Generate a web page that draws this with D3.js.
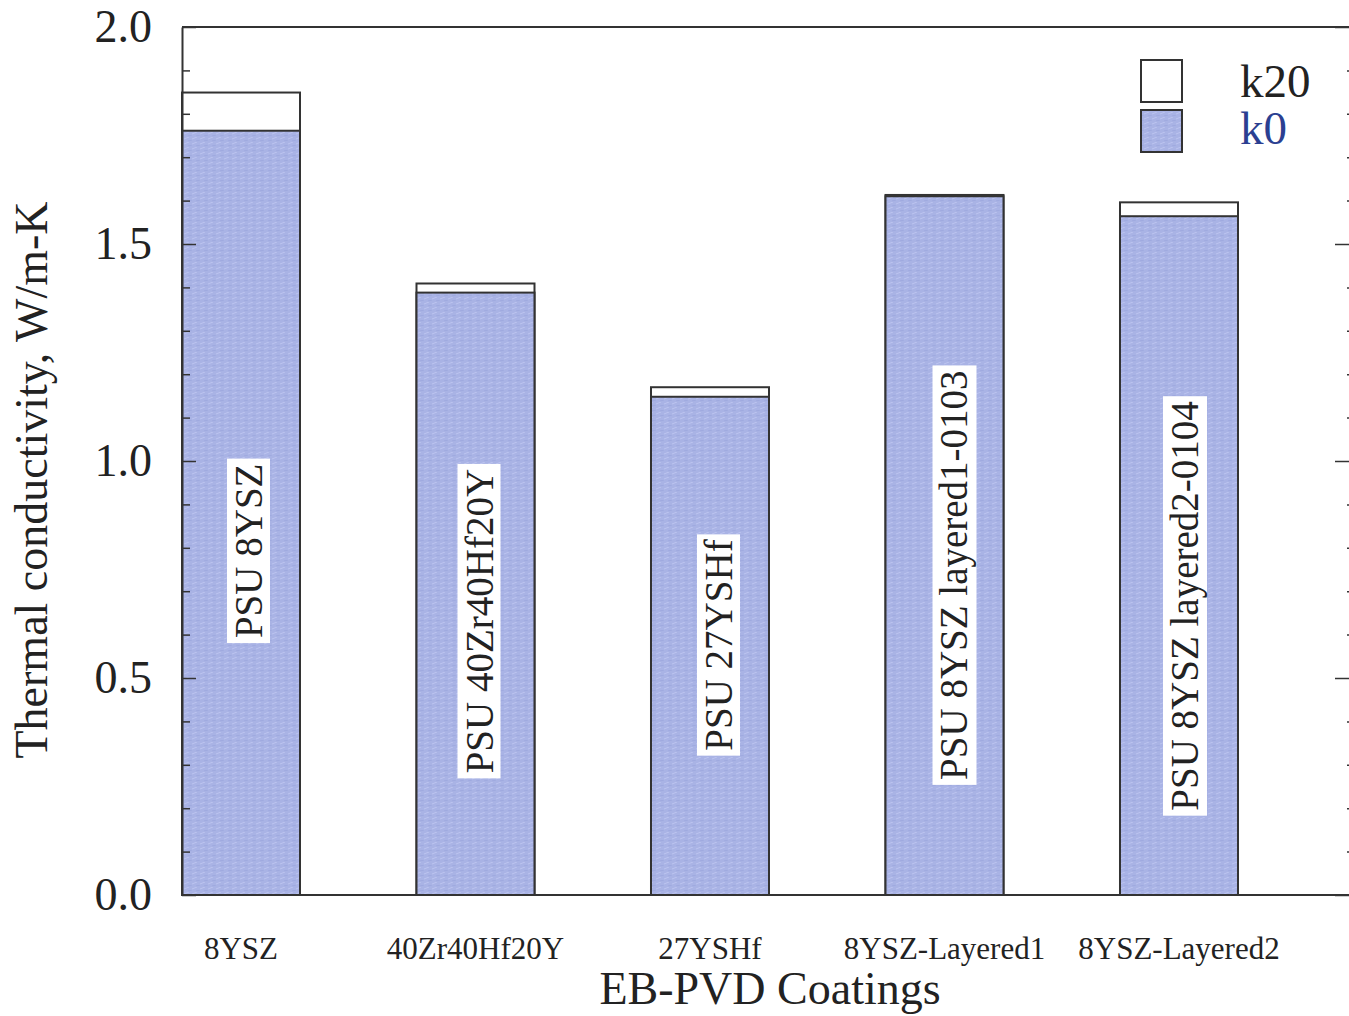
<!DOCTYPE html>
<html>
<head>
<meta charset="utf-8">
<script src="https://cdn.jsdelivr.net/npm/d3@7"></script>
<style>
  body { margin: 0; background: #fff; }
  svg { display: block; }
  text { font-family: "Liberation Serif", "Times New Roman", serif; fill: #222; }
</style>
</head>
<body>
<svg id="chart" width="1349" height="1016"></svg>
<script>
// Thermal conductivity of EB-PVD coatings (W/m-K)
const coatings = ["8YSZ", "40Zr40Hf20Y", "27YSHf", "8YSZ-Layered1", "8YSZ-Layered2"];
const barLabels = ["PSU 8YSZ", "PSU 40Zr40Hf20Y", "PSU 27YSHf", "PSU 8YSZ layered1-0103", "PSU 8YSZ layered2-0104"];
const k20 = [1.849, 1.409, 1.170, 1.613, 1.596];
const k0 = [1.761, 1.388, 1.148, 1.610, 1.564];
const yTicks = [0, 0.5, 1.0, 1.5, 2.0];
const yTickLabels = ["0.0", "0.5", "1.0", "1.5", "2.0"];
const yMinorTicks = [0.1, 0.2, 0.3, 0.4, 0.6, 0.7, 0.8, 0.9, 1.1, 1.2, 1.3, 1.4, 1.6, 1.7, 1.8, 1.9];

// where the in-bar captions sit: vertical centre (data units) and shift from bar centre (px)
const labelMid = [0.793, 0.631, 0.576, 0.737, 0.666];
const labelShift = [21, 17, 22, 23, 19];

const svg = d3.select("#chart");
const plotLeft = 182, plotRight = 1352, plotTop = 27, plotBottom = 895;

const y = d3.scaleLinear().domain([0, 2]).range([plotBottom, plotTop]);
const x = d3.scaleBand().domain(coatings).range([182, 1238]).paddingInner(0.4968).paddingOuter(0);

// fill texture for the k0 bars
const defs = svg.append("defs");
const pat = defs.append("pattern").attr("id", "k0fill")
  .attr("patternUnits", "userSpaceOnUse").attr("width", 8).attr("height", 5);
pat.append("rect").attr("width", 8).attr("height", 5).attr("fill", "#a9b3e5");
pat.append("path").attr("d", "M0,4 L5,2").attr("stroke", "#bcc4ef").attr("stroke-width", 1);
pat.append("path").attr("d", "M4,1 L8,0").attr("stroke", "#9ba6dd").attr("stroke-width", 0.8);

// bars: k20 behind, k0 in front
const bars = svg.append("g");
bars.selectAll("rect.k20").data(coatings).join("rect")
  .attr("class", "k20")
  .attr("x", d => x(d)).attr("width", x.bandwidth())
  .attr("y", (d, i) => y(k20[i])).attr("height", (d, i) => y(0) - y(k20[i]))
  .attr("fill", "#fff").attr("stroke", "#333").attr("stroke-width", 2);
bars.selectAll("rect.k0").data(coatings).join("rect")
  .attr("class", "k0")
  .attr("x", d => x(d)).attr("width", x.bandwidth())
  .attr("y", (d, i) => y(k0[i])).attr("height", (d, i) => y(0) - y(k0[i]))
  .attr("fill", "url(#k0fill)").attr("stroke", "#333").attr("stroke-width", 2);

// captions inside bars on white boxes
const cap = svg.append("g").selectAll("g").data(coatings).join("g")
  .attr("transform", (d, i) => `translate(${x(d) + x.bandwidth() / 2 + labelShift[i]},${y(labelMid[i])}) rotate(-90)`);
cap.append("text")
  .attr("text-anchor", "middle")
  .style("font-size", "39px")
  .text((d, i) => barLabels[i]);
cap.each(function () {
  const g = d3.select(this);
  const b = g.select("text").node().getBBox();
  g.insert("rect", "text")
    .attr("x", b.x - 5).attr("y", b.y).attr("width", b.width + 10).attr("height", b.height)
    .attr("fill", "#fff");
});

// frame lines
svg.append("line").attr("x1", plotLeft).attr("x2", plotRight).attr("y1", plotTop).attr("y2", plotTop)
  .attr("stroke", "#333").attr("stroke-width", 2);
svg.append("line").attr("x1", plotLeft).attr("x2", plotRight).attr("y1", plotBottom).attr("y2", plotBottom)
  .attr("stroke", "#333").attr("stroke-width", 2);

// left axis
const yAxis = svg.append("g").attr("transform", `translate(${plotLeft},0)`)
  .call(d3.axisLeft(y).tickValues(yTicks).tickFormat((d, i) => yTickLabels[i])
    .tickSizeInner(-14).tickSizeOuter(0).tickPadding(30));
yAxis.select(".domain").attr("stroke", "#333").attr("stroke-width", 2);
yAxis.selectAll(".tick line").attr("stroke", "#333").attr("stroke-width", 1.5);
yAxis.selectAll("text").style("font-size", "46px").attr("fill", "#222");

const yMinor = svg.append("g").attr("transform", `translate(${plotLeft},0)`)
  .call(d3.axisLeft(y).tickValues(yMinorTicks).tickFormat("").tickSizeInner(-8).tickSizeOuter(0));
yMinor.select(".domain").remove();
yMinor.selectAll(".tick line").attr("stroke", "#333").attr("stroke-width", 1.5);

// right axis (ticks only)
const yRight = svg.append("g").attr("transform", `translate(${plotRight},0)`)
  .call(d3.axisRight(y).tickValues(yTicks).tickFormat("").tickSizeInner(-17).tickSizeOuter(0));
yRight.selectAll(".tick line").attr("stroke", "#333").attr("stroke-width", 1.5);
const yRightMinor = svg.append("g").attr("transform", `translate(${plotRight},0)`)
  .call(d3.axisRight(y).tickValues(yMinorTicks).tickFormat("").tickSizeInner(-5).tickSizeOuter(0));
yRightMinor.select(".domain").remove();
yRightMinor.selectAll(".tick line").attr("stroke", "#333").attr("stroke-width", 1.5);

// category axis
const xAxis = svg.append("g").attr("transform", `translate(0,${plotBottom})`)
  .call(d3.axisBottom(x).tickSize(0).tickPadding(42));
xAxis.select(".domain").remove();
xAxis.selectAll("text").style("font-size", "31px").attr("fill", "#222");

// axis titles
svg.append("text").attr("transform", "translate(47,480) rotate(-90)")
  .attr("text-anchor", "middle").style("font-size", "46px")
  .text("Thermal conductivity, W/m-K");
svg.append("text").attr("x", 770).attr("y", 1004)
  .attr("text-anchor", "middle").style("font-size", "46px")
  .text("EB-PVD Coatings");

// legend
const legend = svg.append("g");
legend.append("rect").attr("x", 1141).attr("y", 60).attr("width", 41).attr("height", 42)
  .attr("fill", "#fff").attr("stroke", "#333").attr("stroke-width", 2);
legend.append("rect").attr("x", 1141).attr("y", 110).attr("width", 41).attr("height", 42)
  .attr("fill", "url(#k0fill)").attr("stroke", "#333").attr("stroke-width", 2);
legend.append("text").attr("x", 1240).attr("y", 97).style("font-size", "47px").text("k20");
legend.append("text").attr("x", 1240).attr("y", 144).style("font-size", "47px")
  .style("fill", "#2b3f91").text("k0");
</script>
</body>
</html>
